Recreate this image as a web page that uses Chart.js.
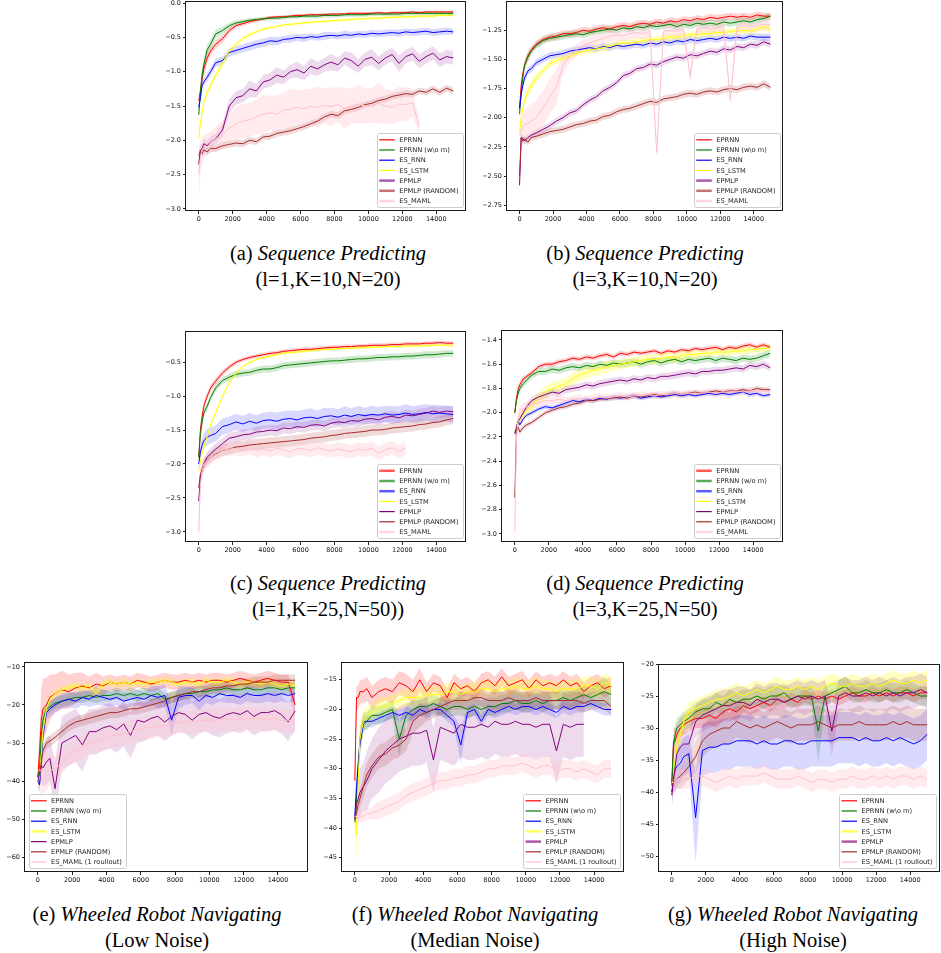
<!DOCTYPE html>
<html>
<head>
<meta charset="utf-8">
<script src="https://cdn.jsdelivr.net/npm/chart.js@4.4.0/dist/chart.umd.min.js"></script>
<style>
body { margin: 0; background: #fff; width: 941px; height: 953px; position: relative; overflow: hidden; }
.cap { position: absolute; font-family: "Liberation Serif", "DejaVu Serif", serif; font-size: 20.5px; color: #000;
       white-space: nowrap; transform: translateX(-50%); text-align: center; line-height: 26px; }
</style>
</head>
<body>
<div class="cap" style="left:328px;top:240px">(a) <i>Sequence Predicting</i><br>(l=1,K=10,N=20)</div>
<div class="cap" style="left:645px;top:240px">(b) <i>Sequence Predicting</i><br>(l=3,K=10,N=20)</div>
<div class="cap" style="left:328px;top:570px">(c) <i>Sequence Predicting</i><br>(l=1,K=25,N=50))</div>
<div class="cap" style="left:645px;top:570px">(d) <i>Sequence Predicting</i><br>(l=3,K=25,N=50)</div>
<div class="cap" style="left:157px;top:901px">(e) <i>Wheeled Robot Navigating</i><br>(Low Noise)</div>
<div class="cap" style="left:475px;top:901px">(f) <i>Wheeled Robot Navigating</i><br>(Median Noise)</div>
<div class="cap" style="left:793px;top:901px">(g) <i>Wheeled Robot Navigating</i><br>(High Noise)</div>
<script>
// training steps shared by every curve
var STEPS = [0,100,200,300,500,700,1000, 1400,1800,2200,2600,3000,3400,3800, 4200,4600,5000,5400,5800,6200,6600,
             7000,7400,7800,8200,8600,9000,9400, 9800,10200,10600,11000,11400,11800,12200, 12600,13000,13400,13800,14200,14600,15000];
var X_TICKS = [0,2000,4000,6000,8000,10000,12000,14000];

var LABELS_AB = ['EPRNN','EPRNN (w\\o m)','ES_RNN','ES_LSTM','EPMLP','EPMLP (RANDOM)','ES_MAML'];
var LABELS_CD = ['EPRNN','EPRNN (w/o m)','ES_RNN','ES_LSTM','EPMLP','EPMLP (RANDOM)','ES_MAML'];
var LABELS_E = ['EPRNN','EPRNN (w/o m)','ES_RNN','ES_LSTM','EPMLP','EPMLP (RANDOM)','ES_MAML (1 roullout)'];
var LABELS_FG = ['EPRNN','EPRNN (w\\o m)','ES_RNN','ES_LSTM','EPMLP','EPMLP (RANDOM)','ES_MAML (1 roullout)'];

// (a) l=1,K=10,N=20
var aEprnn = [-1.42,-1.28,-1.1,-0.96,-0.8,-0.7,-0.6, -0.52,-0.4,-0.33,-0.3,-0.27,-0.25,-0.23, -0.21,-0.2,-0.2,-0.19,-0.18,-0.18,-0.17, -0.17,-0.17,-0.16,-0.16,-0.16,-0.15,-0.15, -0.15,-0.15,-0.14,-0.15,-0.14,-0.14,-0.14, -0.13,-0.14,-0.13,-0.13,-0.13,-0.13,-0.13];
var aEprnnNoM = [-1.63,-1.3,-1.05,-0.9,-0.68,-0.6,-0.45, -0.4,-0.33,-0.29,-0.27,-0.25,-0.24,-0.23, -0.22,-0.22,-0.21,-0.2,-0.2,-0.19,-0.19, -0.19,-0.18,-0.18,-0.18,-0.17,-0.17,-0.17, -0.17,-0.16,-0.16,-0.16,-0.16,-0.16,-0.15, -0.15,-0.15,-0.15,-0.15,-0.15,-0.15,-0.15];
var aEsRnn = [-1.52,-1.38,-1.2,-1.15,-1.08,-1.0,-0.87, -0.84,-0.72,-0.69,-0.66,-0.63,-0.6,-0.58, -0.55,-0.56,-0.53,-0.52,-0.5,-0.51,-0.49, -0.5,-0.48,-0.47,-0.48,-0.46,-0.47,-0.45, -0.46,-0.44,-0.45,-0.44,-0.43,-0.44,-0.42, -0.43,-0.42,-0.41,-0.43,-0.42,-0.41,-0.42];
var aEsLstm = [-1.97,-1.75,-1.6,-1.45,-1.3,-1.2,-1.05, -0.88,-0.7,-0.6,-0.52,-0.46,-0.42,-0.38, -0.36,-0.34,-0.32,-0.31,-0.3,-0.29,-0.28, -0.27,-0.27,-0.26,-0.25,-0.25,-0.24,-0.23, -0.23,-0.22,-0.22,-0.21,-0.21,-0.2,-0.2, -0.2,-0.19,-0.19,-0.19,-0.18,-0.18,-0.18];
var aEpmlp = [-2.35,-2.15,-2.12,-2.05,-2.08,-2.02,-1.98, -1.85,-1.5,-1.38,-1.35,-1.25,-1.28,-1.15, -1.12,-1.05,-1.08,-1.0,-0.97,-1.02,-0.92, -0.96,-0.9,-0.86,-0.9,-0.8,-0.84,-0.92, -0.82,-0.79,-0.88,-0.8,-0.75,-0.88,-0.78, -0.74,-0.85,-0.78,-0.73,-0.83,-0.78,-0.8];
var aEpmlpRand = [-2.22,-2.15,-2.2,-2.14,-2.17,-2.12,-2.12, -2.08,-2.06,-2.04,-2.05,-2.0,-2.02,-1.95, -1.94,-1.9,-1.88,-1.86,-1.83,-1.8,-1.76, -1.72,-1.66,-1.62,-1.64,-1.57,-1.55,-1.52, -1.48,-1.46,-1.42,-1.4,-1.36,-1.34,-1.32, -1.33,-1.28,-1.3,-1.25,-1.3,-1.24,-1.28];
var aEsMaml = [-2.5,-2.25,-2.15,-2.1,-2.05,-2.02,-1.98, -1.92,-1.82,-1.76,-1.72,-1.7,-1.66,-1.62, -1.6,-1.62,-1.56,-1.55,-1.52,-1.54,-1.5, -1.52,-1.49,-1.51,-1.48,-1.53,-1.5,-1.47, -1.5,-1.49,-1.46,-1.5,-1.52,-1.47,-1.48, -1.45,-1.8,null,null,null,null,null];
var aEprnnSd = [0.05,0.1,0.12,0.1,0.08,0.07,0.06, 0.06,0.04,0.03,0.03,0.03,0.03,0.02, 0.02,0.02,0.02,0.02,0.02,0.02,0.02, 0.02,0.02,0.02,0.02,0.02,0.02,0.02, 0.02,0.02,0.02,0.02,0.02,0.02,0.02, 0.02,0.02,0.02,0.02,0.02,0.02,0.02];
var aEprnnNoMSd = [0.06,0.12,0.12,0.1,0.08,0.07,0.06, 0.05,0.04,0.04,0.03,0.03,0.03,0.03, 0.03,0.03,0.03,0.03,0.03,0.03,0.03, 0.03,0.03,0.03,0.03,0.03,0.03,0.03, 0.03,0.03,0.03,0.03,0.03,0.03,0.03, 0.03,0.03,0.03,0.03,0.03,0.03,0.03];
var aEsRnnSd = [0.05,0.06,0.06,0.06,0.06,0.06,0.06, 0.06,0.06,0.06,0.06,0.06,0.06,0.06, 0.06,0.06,0.05,0.06,0.05,0.06,0.05, 0.05,0.06,0.05,0.05,0.06,0.05,0.05, 0.05,0.05,0.05,0.05,0.05,0.05,0.05, 0.05,0.05,0.05,0.05,0.05,0.05,0.05];
var aEsLstmSd = [0.1,0.08,0.06,0.05,0.05,0.05,0.05, 0.05,0.04,0.03,0.03,0.03,0.02,0.02, 0.02,0.02,0.02,0.02,0.02,0.02,0.02, 0.02,0.02,0.02,0.02,0.02,0.02,0.02, 0.02,0.02,0.02,0.02,0.02,0.02,0.02, 0.02,0.02,0.02,0.02,0.02,0.02,0.02];
var aEpmlpSd = [0.08,0.08,0.08,0.08,0.08,0.08,0.08, 0.1,0.1,0.1,0.1,0.12,0.1,0.1, 0.1,0.12,0.1,0.1,0.12,0.1,0.12, 0.1,0.1,0.12,0.1,0.1,0.12,0.1, 0.1,0.12,0.1,0.1,0.1,0.12,0.1, 0.1,0.1,0.1,0.1,0.1,0.1,0.1];
var aEpmlpRandSd = [0.1,0.05,0.05,0.05,0.05,0.05,0.05, 0.05,0.05,0.05,0.05,0.05,0.05,0.05, 0.05,0.05,0.05,0.05,0.05,0.05,0.05, 0.05,0.05,0.05,0.05,0.05,0.05,0.05, 0.05,0.05,0.05,0.05,0.05,0.05,0.05, 0.05,0.05,0.05,0.05,0.05,0.05,0.05];
var aEsMamlSd = [0.4,0.25,0.2,0.18,0.15,0.15,0.18, 0.2,0.22,0.25,0.25,0.25,0.25,0.28, 0.25,0.28,0.25,0.3,0.25,0.28,0.25, 0.3,0.25,0.28,0.25,0.3,0.25,0.28, 0.25,0.25,0.3,0.25,0.25,0.25,0.25, 0.2,0.1,null,null,null,null,null];

// (b) l=3,K=10,N=20
var bEprnn = [-1.92,-1.72,-1.62,-1.55,-1.47,-1.42,-1.37, -1.33,-1.31,-1.3,-1.28,-1.28,-1.27,-1.25, -1.26,-1.24,-1.23,-1.24,-1.22,-1.21,-1.22, -1.2,-1.19,-1.2,-1.18,-1.19,-1.17,-1.18, -1.16,-1.17,-1.15,-1.16,-1.14,-1.15,-1.14, -1.13,-1.14,-1.13,-1.14,-1.12,-1.13,-1.13];
var bEprnnNoM = [-1.97,-1.78,-1.65,-1.55,-1.48,-1.43,-1.38, -1.34,-1.32,-1.31,-1.3,-1.29,-1.28,-1.29, -1.27,-1.26,-1.25,-1.24,-1.25,-1.23,-1.24, -1.22,-1.23,-1.21,-1.22,-1.21,-1.2,-1.22, -1.2,-1.21,-1.19,-1.2,-1.19,-1.2,-1.18, -1.19,-1.18,-1.17,-1.18,-1.16,-1.15,-1.13];
var bEsRnn = [-1.92,-1.8,-1.72,-1.66,-1.6,-1.58,-1.53, -1.5,-1.47,-1.46,-1.45,-1.43,-1.42,-1.41, -1.4,-1.41,-1.39,-1.4,-1.38,-1.39,-1.38, -1.37,-1.38,-1.36,-1.37,-1.35,-1.36,-1.34, -1.35,-1.33,-1.34,-1.33,-1.32,-1.33,-1.31, -1.32,-1.31,-1.32,-1.3,-1.31,-1.31,-1.31];
var bEsLstm = [-2.13,-2.0,-1.92,-1.85,-1.78,-1.72,-1.66, -1.6,-1.54,-1.51,-1.49,-1.47,-1.45,-1.43, -1.42,-1.41,-1.4,-1.39,-1.37,-1.36,-1.36, -1.35,-1.34,-1.33,-1.33,-1.32,-1.31,-1.31, -1.3,-1.29,-1.29,-1.28,-1.28,-1.27,-1.27, -1.26,-1.26,-1.25,-1.26,-1.24,-1.22,-1.24];
var bEpmlp = [-2.58,-2.17,-2.18,-2.2,-2.17,-2.15,-2.13, -2.1,-2.07,-2.03,-2.0,-1.96,-1.94,-1.89, -1.85,-1.82,-1.77,-1.74,-1.7,-1.64,-1.62, -1.58,-1.57,-1.54,-1.55,-1.52,-1.5,-1.48, -1.49,-1.46,-1.47,-1.45,-1.43,-1.44,-1.41, -1.42,-1.39,-1.4,-1.37,-1.38,-1.35,-1.37];
var bEpmlpRand = [-2.5,-2.17,-2.2,-2.18,-2.21,-2.17,-2.16, -2.14,-2.12,-2.11,-2.1,-2.08,-2.06,-2.05, -2.03,-2.02,-1.99,-1.98,-1.95,-1.93,-1.92, -1.9,-1.88,-1.86,-1.87,-1.84,-1.83,-1.82, -1.8,-1.79,-1.8,-1.78,-1.77,-1.78,-1.76, -1.75,-1.76,-1.74,-1.73,-1.74,-1.71,-1.74];
var bEsMaml = [-2.15,-2.12,-2.08,-2.06,-2.05,-2.03,-2.0, -1.92,-1.82,-1.74,-1.55,-1.47,-1.42,-1.38, -1.36,-1.34,-1.32,-1.3,-1.29,-1.3,-1.28, -1.27,-1.28,-1.26,-2.3,-1.26,-1.25,-1.26, -1.24,-1.65,-1.24,-1.23,-1.24,-1.23,-1.22, -1.85,-1.22,-1.21,-1.22,-1.21,-1.2,-1.2];
var bEprnnSd = [0.05,0.05,0.04,0.04,0.04,0.03,0.03, 0.03,0.03,0.03,0.03,0.03,0.03,0.03, 0.03,0.03,0.03,0.03,0.03,0.03,0.03, 0.03,0.03,0.03,0.03,0.03,0.03,0.03, 0.03,0.03,0.03,0.03,0.03,0.03,0.03, 0.03,0.03,0.03,0.03,0.03,0.03,0.03];
var bEprnnNoMSd = [0.05,0.05,0.04,0.04,0.04,0.03,0.03, 0.03,0.03,0.03,0.03,0.03,0.03,0.03, 0.03,0.03,0.03,0.03,0.03,0.03,0.03, 0.03,0.03,0.03,0.03,0.03,0.03,0.03, 0.03,0.03,0.03,0.03,0.03,0.03,0.03, 0.03,0.03,0.03,0.03,0.03,0.03,0.03];
var bEsRnnSd = [0.04,0.04,0.04,0.04,0.03,0.03,0.03, 0.03,0.03,0.03,0.03,0.03,0.03,0.03, 0.03,0.03,0.03,0.03,0.03,0.03,0.03, 0.03,0.03,0.03,0.03,0.03,0.03,0.03, 0.03,0.03,0.03,0.03,0.03,0.03,0.03, 0.03,0.03,0.03,0.03,0.03,0.03,0.03];
var bEsLstmSd = [0.04,0.04,0.04,0.04,0.04,0.04,0.04, 0.03,0.03,0.03,0.03,0.03,0.03,0.03, 0.03,0.03,0.03,0.03,0.03,0.03,0.03, 0.03,0.03,0.03,0.03,0.03,0.03,0.03, 0.03,0.03,0.03,0.03,0.03,0.03,0.03, 0.03,0.03,0.03,0.03,0.03,0.03,0.03];
var bEpmlpSd = [0.1,0.03,0.03,0.03,0.03,0.03,0.03, 0.03,0.03,0.03,0.03,0.03,0.03,0.03, 0.03,0.03,0.03,0.03,0.03,0.03,0.03, 0.03,0.03,0.03,0.03,0.03,0.03,0.03, 0.03,0.03,0.03,0.03,0.03,0.03,0.03, 0.03,0.03,0.03,0.03,0.03,0.03,0.03];
var bEpmlpRandSd = [0.08,0.03,0.03,0.03,0.03,0.03,0.03, 0.03,0.03,0.03,0.03,0.03,0.03,0.03, 0.03,0.03,0.03,0.03,0.03,0.03,0.03, 0.03,0.03,0.03,0.03,0.03,0.03,0.03, 0.03,0.03,0.03,0.03,0.03,0.03,0.03, 0.03,0.03,0.03,0.03,0.03,0.03,0.03];
var bEsMamlSd = [0.1,0.1,0.1,0.12,0.15,0.15,0.15, 0.15,0.15,0.15,0.08,0.06,0.05,0.05, 0.05,0.05,0.05,0.05,0.05,0.05,0.05, 0.05,0.05,0.05,0.05,0.05,0.05,0.05, 0.05,0.05,0.05,0.05,0.05,0.05,0.05, 0.05,0.05,0.05,0.05,0.05,0.05,0.05];

// (c) l=1,K=25,N=50
var cEprnn = [-1.9,-1.5,-1.3,-1.15,-1.0,-0.88,-0.78, -0.66,-0.57,-0.5,-0.46,-0.43,-0.41,-0.39, -0.37,-0.36,-0.34,-0.33,-0.32,-0.31,-0.31, -0.3,-0.29,-0.28,-0.28,-0.27,-0.27,-0.26, -0.26,-0.25,-0.25,-0.25,-0.24,-0.24,-0.23, -0.23,-0.23,-0.22,-0.22,-0.21,-0.22,-0.22];
var cEprnnNoM = [-1.9,-1.55,-1.38,-1.25,-1.15,-1.02,-0.88, -0.77,-0.72,-0.68,-0.66,-0.65,-0.62,-0.6, -0.6,-0.58,-0.55,-0.54,-0.53,-0.52,-0.51, -0.5,-0.49,-0.48,-0.48,-0.47,-0.46,-0.45, -0.45,-0.44,-0.43,-0.43,-0.42,-0.42,-0.41, -0.41,-0.4,-0.39,-0.39,-0.38,-0.37,-0.37];
var cEsRnn = [-2.0,-1.82,-1.72,-1.66,-1.6,-1.58,-1.55, -1.45,-1.42,-1.38,-1.41,-1.37,-1.4,-1.36, -1.35,-1.37,-1.34,-1.33,-1.35,-1.32,-1.31, -1.33,-1.3,-1.29,-1.31,-1.28,-1.3,-1.27, -1.29,-1.27,-1.28,-1.26,-1.28,-1.27,-1.25, -1.27,-1.26,-1.24,-1.26,-1.25,-1.26,-1.27];
var cEsLstm = [-2.1,-1.95,-1.85,-1.75,-1.6,-1.42,-1.25, -1.0,-0.8,-0.66,-0.56,-0.5,-0.46,-0.43, -0.41,-0.39,-0.37,-0.36,-0.35,-0.34,-0.33, -0.32,-0.31,-0.31,-0.3,-0.3,-0.29,-0.29, -0.28,-0.28,-0.28,-0.27,-0.27,-0.27,-0.26, -0.26,-0.26,-0.26,-0.25,-0.25,-0.25,-0.26];
var cEpmlp = [-2.55,-2.2,-2.08,-2.0,-1.9,-1.85,-1.78, -1.7,-1.62,-1.6,-1.57,-1.56,-1.53,-1.52, -1.5,-1.51,-1.47,-1.48,-1.45,-1.46,-1.43, -1.42,-1.44,-1.4,-1.38,-1.39,-1.36,-1.37, -1.34,-1.33,-1.35,-1.31,-1.3,-1.32,-1.28, -1.29,-1.27,-1.25,-1.22,-1.24,-1.22,-1.23];
var cEpmlpRand = [-2.35,-2.15,-2.1,-2.0,-1.95,-1.9,-1.85, -1.8,-1.78,-1.75,-1.74,-1.72,-1.71,-1.7, -1.69,-1.68,-1.67,-1.66,-1.65,-1.64,-1.62, -1.61,-1.6,-1.58,-1.57,-1.55,-1.54,-1.53, -1.52,-1.5,-1.5,-1.49,-1.47,-1.46,-1.45, -1.44,-1.42,-1.41,-1.39,-1.38,-1.35,-1.33];
var cEsMaml = [-3.0,-2.3,-2.1,-2.0,-1.95,-1.9,-1.84, -1.8,-1.78,-1.77,-1.79,-1.76,-1.8,-1.78, -1.81,-1.77,-1.79,-1.82,-1.77,-1.78,-1.8, -1.76,-1.79,-1.81,-1.78,-1.8,-1.82,-1.78, -1.8,-1.77,-1.84,-1.79,-1.76,-1.82,-1.76, null,null,null,null,null,null,null];
var cEprnnSd = [0.1,0.1,0.08,0.06,0.05,0.05,0.05, 0.04,0.04,0.03,0.03,0.03,0.03,0.03, 0.03,0.03,0.03,0.03,0.03,0.03,0.03, 0.03,0.03,0.03,0.03,0.03,0.03,0.03, 0.03,0.03,0.03,0.03,0.03,0.03,0.03, 0.03,0.03,0.03,0.03,0.03,0.03,0.03];
var cEprnnNoMSd = [0.1,0.1,0.08,0.06,0.05,0.05,0.05, 0.05,0.05,0.05,0.05,0.05,0.05,0.05, 0.05,0.05,0.05,0.05,0.05,0.05,0.05, 0.05,0.05,0.05,0.05,0.05,0.05,0.05, 0.05,0.05,0.05,0.05,0.05,0.05,0.05, 0.05,0.05,0.05,0.05,0.05,0.05,0.05];
var cEsRnnSd = [0.1,0.1,0.1,0.12,0.12,0.12,0.12, 0.12,0.12,0.12,0.12,0.12,0.12,0.12, 0.12,0.13,0.12,0.12,0.13,0.12,0.13, 0.12,0.13,0.12,0.12,0.13,0.12,0.13, 0.12,0.13,0.12,0.12,0.13,0.12,0.13, 0.12,0.13,0.12,0.13,0.12,0.12,0.12];
var cEsLstmSd = [0.05,0.05,0.05,0.05,0.04,0.04,0.04, 0.03,0.03,0.02,0.02,0.02,0.02,0.02, 0.02,0.02,0.02,0.02,0.02,0.02,0.02, 0.02,0.02,0.02,0.02,0.02,0.02,0.02, 0.02,0.02,0.02,0.02,0.02,0.02,0.02, 0.02,0.02,0.02,0.02,0.02,0.02,0.02];
var cEpmlpSd = [0.2,0.1,0.08,0.08,0.08,0.08,0.08, 0.08,0.08,0.08,0.08,0.08,0.08,0.08, 0.08,0.08,0.08,0.08,0.08,0.08,0.08, 0.08,0.08,0.08,0.08,0.08,0.08,0.08, 0.08,0.08,0.08,0.08,0.08,0.08,0.08, 0.08,0.08,0.08,0.08,0.08,0.08,0.08];
var cEpmlpRandSd = [0.1,0.08,0.08,0.08,0.08,0.08,0.08, 0.08,0.08,0.08,0.08,0.08,0.08,0.08, 0.08,0.08,0.08,0.08,0.08,0.08,0.08, 0.08,0.08,0.08,0.08,0.08,0.08,0.08, 0.08,0.08,0.08,0.08,0.08,0.08,0.08, 0.08,0.08,0.08,0.08,0.08,0.08,0.08];
var cEsMamlSd = [0.2,0.15,0.12,0.1,0.1,0.1,0.1, 0.1,0.1,0.1,0.1,0.1,0.1,0.1, 0.1,0.1,0.1,0.1,0.1,0.1,0.1, 0.1,0.1,0.1,0.1,0.1,0.1,0.1, 0.1,0.1,0.1,0.1,0.1,0.1,0.1, null,null,null,null,null,null,null];

// (d) l=3,K=25,N=50
var dEprnn = [-2.0,-1.88,-1.8,-1.77,-1.72,-1.7,-1.67, -1.62,-1.6,-1.6,-1.58,-1.57,-1.55,-1.56, -1.54,-1.55,-1.53,-1.52,-1.54,-1.51,-1.52, -1.5,-1.51,-1.5,-1.49,-1.51,-1.49,-1.5, -1.48,-1.49,-1.47,-1.48,-1.47,-1.46,-1.48, -1.46,-1.47,-1.45,-1.44,-1.46,-1.44,-1.46];
var dEprnnNoM = [-2.0,-1.9,-1.84,-1.8,-1.76,-1.73,-1.69, -1.66,-1.66,-1.64,-1.65,-1.63,-1.62,-1.63, -1.61,-1.62,-1.6,-1.61,-1.59,-1.6,-1.59, -1.58,-1.6,-1.58,-1.57,-1.59,-1.57,-1.56, -1.58,-1.56,-1.57,-1.56,-1.55,-1.57,-1.55, -1.56,-1.57,-1.55,-1.56,-1.55,-1.53,-1.51];
var dEsRnn = [-2.17,-2.15,-2.07,-2.1,-2.05,-2.02,-2.0, -1.97,-1.95,-1.96,-1.94,-1.92,-1.9,-1.91, -1.89,-1.9,-1.88,-1.89,-1.87,-1.88,-1.87, -1.86,-1.88,-1.87,-1.86,-1.87,-1.86,-1.85, -1.86,-1.85,-1.86,-1.85,-1.84,-1.85,-1.84, -1.85,-1.84,-1.83,-1.85,-1.84,-1.86,-1.85];
var dEsLstm = [-2.15,-2.12,-2.08,-2.05,-2.02,-1.98,-1.94, -1.88,-1.83,-1.8,-1.78,-1.76,-1.72,-1.69, -1.67,-1.65,-1.64,-1.62,-1.61,-1.6,-1.59, -1.58,-1.57,-1.56,-1.56,-1.55,-1.54,-1.55, -1.53,-1.52,-1.52,-1.51,-1.51,-1.5,-1.5, -1.5,-1.49,-1.49,-1.48,-1.48,-1.47,-1.47];
var dEpmlp = [-2.17,-2.12,-2.07,-2.05,-2.0,-1.95,-1.9, -1.87,-1.85,-1.83,-1.84,-1.81,-1.8,-1.79, -1.77,-1.78,-1.76,-1.75,-1.74,-1.73,-1.74, -1.72,-1.73,-1.71,-1.72,-1.7,-1.7,-1.69, -1.68,-1.67,-1.68,-1.66,-1.66,-1.65,-1.65, -1.64,-1.63,-1.64,-1.61,-1.62,-1.6,-1.63];
var dEpmlpRand = [-2.7,-2.15,-2.12,-2.16,-2.12,-2.1,-2.08, -2.04,-2.0,-1.98,-1.96,-1.95,-1.93,-1.92, -1.9,-1.9,-1.89,-1.88,-1.88,-1.87,-1.88, -1.86,-1.87,-1.86,-1.85,-1.86,-1.85,-1.84, -1.85,-1.84,-1.83,-1.84,-1.83,-1.82,-1.83, -1.82,-1.82,-1.81,-1.82,-1.8,-1.81,-1.81];
var dEsMaml = [-2.98,-2.2,-2.05,-2.0,-1.97,-1.95,-1.93, -1.92,-1.9,-1.9,-1.89,-1.9,-1.89,-1.88, -1.89,-1.88,-1.87,-1.88,-1.87,-1.86,-1.87, -1.86,-1.86,-1.85,-1.86,-1.85,-1.85,-1.84, -1.85,-1.84,-1.84,-1.84,-1.83,-1.84,-1.83, -1.83,-1.82,-1.83,-1.82,-1.82,-1.82,-1.82];
var dEprnnSd = [0.04,0.03,0.03,0.03,0.02,0.02,0.02, 0.02,0.02,0.02,0.02,0.02,0.02,0.02, 0.02,0.02,0.02,0.02,0.02,0.02,0.02, 0.02,0.02,0.02,0.02,0.02,0.02,0.02, 0.02,0.02,0.02,0.02,0.02,0.02,0.02, 0.02,0.02,0.02,0.02,0.02,0.02,0.02];
var dEprnnNoMSd = [0.04,0.03,0.03,0.03,0.03,0.03,0.03, 0.03,0.03,0.03,0.03,0.03,0.03,0.03, 0.03,0.03,0.03,0.03,0.03,0.03,0.03, 0.03,0.03,0.03,0.03,0.03,0.03,0.03, 0.03,0.03,0.03,0.03,0.03,0.03,0.03, 0.03,0.03,0.03,0.03,0.03,0.03,0.03];
var dEsRnnSd = [0.03,0.03,0.03,0.02,0.02,0.02,0.02, 0.02,0.02,0.02,0.02,0.02,0.02,0.02, 0.02,0.02,0.02,0.02,0.02,0.02,0.02, 0.02,0.02,0.02,0.02,0.02,0.02,0.02, 0.02,0.02,0.02,0.02,0.02,0.02,0.02, 0.02,0.02,0.02,0.02,0.02,0.02,0.02];
var dEsLstmSd = [0.03,0.03,0.04,0.04,0.04,0.05,0.05, 0.05,0.05,0.05,0.05,0.05,0.05,0.05, 0.05,0.05,0.05,0.05,0.04,0.04,0.04, 0.04,0.04,0.04,0.04,0.04,0.04,0.04, 0.04,0.04,0.03,0.03,0.03,0.03,0.03, 0.03,0.03,0.03,0.03,0.03,0.03,0.03];
var dEpmlpSd = [0.03,0.03,0.03,0.03,0.03,0.03,0.03, 0.03,0.03,0.03,0.03,0.03,0.03,0.03, 0.03,0.03,0.03,0.03,0.03,0.03,0.03, 0.03,0.03,0.03,0.03,0.03,0.03,0.03, 0.03,0.03,0.03,0.03,0.03,0.03,0.03, 0.03,0.03,0.03,0.03,0.03,0.03,0.03];
var dEpmlpRandSd = [0.05,0.02,0.02,0.02,0.02,0.02,0.02, 0.02,0.02,0.02,0.02,0.02,0.02,0.02, 0.02,0.02,0.02,0.02,0.02,0.02,0.02, 0.02,0.02,0.02,0.02,0.02,0.02,0.02, 0.02,0.02,0.02,0.02,0.02,0.02,0.02, 0.02,0.02,0.02,0.02,0.02,0.02,0.02];
var dEsMamlSd = [0.08,0.1,0.08,0.06,0.05,0.04,0.04, 0.03,0.03,0.03,0.03,0.03,0.03,0.03, 0.03,0.03,0.03,0.03,0.03,0.03,0.03, 0.03,0.03,0.03,0.03,0.03,0.03,0.03, 0.03,0.03,0.03,0.03,0.03,0.03,0.03, 0.03,0.03,0.03,0.03,0.03,0.03,0.03];

// (e) low noise
var eEprnn = [-39,-32,-24,-21,-20,-18,-17, -16,-16.5,-15.5,-15,-15.5,-14.5,-15, -14,-14.5,-14,-14.5,-13.5,-14,-14.5, -14,-13.5,-14,-14,-13.5,-14,-13.5, -14,-13.5,-13.5,-14,-13.5,-13,-13.5, -14,-13.5,-13,-13.5,-14,-14,-20];
var eEprnnNoM = [-39,-37,-28,-24,-21,-20.5,-19.5, -19,-18.5,-18,-18,-17.5,-18,-17.5, -17.5,-17,-17.5,-17,-17.5,-17,-17.5, -17,-18.5,-18,-17.5,-17,-17,-16.5, -16.5,-16,-16,-15.5,-16,-16,-15.5, -16,-16,-15.5,-15.5,-16,-15.5,-15.5];
var eEsRnn = [-40,-41,-35,-28,-22,-21,-20, -19,-18.5,-19,-18,-18.5,-17.5,-18, -18.5,-18,-19,-18.5,-18,-18.5,-17.5, -18,-17.5,-24,-18,-17.5,-17.5,-19, -17.5,-18,-17,-17.5,-17.5,-18,-17, -17.5,-17.5,-17,-17.5,-17,-17.5,-17];
var eEsLstm = [-40,-39,-33,-27,-21,-18.5,-17, -16,-15.5,-15,-15.5,-15,-17,-14.5, -14,-14.5,-14,-14.5,-14,-14.5,-14, -14,-13.5,-14,-14.5,-14,-14,-14.5, -13.5,-14,-14,-13.5,-14,-14.5,-14, -14,-14.5,-14,-14.5,-15,-14.5,-15];
var eEpmlp = [-40,-38,-36,-36.5,-35,-34,-42, -30,-29,-28,-30.5,-27,-27,-26, -25.5,-26.5,-25,-28,-24,-24.5,-23.5, -23,-24.5,-23,-22,-22.5,-24,-22.5, -22,-23,-23.5,-22.5,-22,-22.5,-21.5, -23,-22,-22,-21.5,-22.5,-24.5,-21.5];
var eEpmlpRand = [-38.5,-38,-35,-32,-30,-29.5,-28.5, -27,-25.5,-24.5,-24,-23.5,-23,-22.5, -22,-22,-21.5,-21,-21,-20.5,-20, -19.5,-19,-18,-17.5,-17,-16.5,-16.5, -16,-15.5,-15.5,-15,-15,-14.5,-14.5, -14,-14,-14,-13.5,-13.5,-13.5,-13.5];
var eEsMaml = [-37.5,-37,-37.5,-37,-37.5,-37,-37, -35,-33,-32,-31,-30,-29.5,-29, -28,-28,-27.5,-27,-26.5,-26,-26, -25.5,-25.5,-25,-24.5,-24.5,-24.5,-24, -24,-24,-24,-23.5,-24,-23.5,-23.5, -23.5,-23.5,-24,-23.5,-24,-24,-24.5];
var eEprnnSd = [3,5,8,8,7,6,5, 5,4.5,4,3.5,3,3,2.5, 2,2,2,2,2,2,2, 2,2,2,2,2,2,2, 2,2,2,2,2,2,2, 2,2,2,2,2,2,3];
var eEprnnNoMSd = [1,2,3,2,1.5,1.5,1.5, 1.5,1.5,1.5,1.5,1.5,1.5,1.5, 1.5,1.5,1.5,1.5,1.5,1.5,1.5, 1.5,1.5,1.5,1.5,1.5,1.5,1.5, 1.5,1.5,1.5,1.5,1.5,1.5,1.5, 1.5,1.5,1.5,1.5,1.5,1.5,1.5];
var eEsRnnSd = [1,2,3,3,2,2,2, 2,2,2,2,2,2.5,2, 2,2,2.5,2,2,2,2.5, 3,3,4,3,2.5,2,2.5, 2,2,2,2,2,2,2, 2,2,2,2,2,2,2];
var eEsLstmSd = [1,2,3,2,1.5,1,1, 1,1,1,1,1,1.5,1, 1,1,1,1,1,1,1, 1,1,1,1,1,1,1, 1,1,1,1,1,1,1, 1,1,1,1,1,1,1];
var eEpmlpSd = [3,3,4,5,6,6,7, 7,7,7,7,6,6,6, 6,6,6,6,6,5,5, 5,5,5,5,5,5,5, 5,5,5,5,5,5,5, 5,5,5,5,5,5,5];
var eEpmlpRandSd = [1,1,1.5,1.5,1.5,1.5,1.5, 1.5,1.5,1.5,1.5,1.5,1.5,1.5, 1.5,1.5,1.5,1.5,1.5,1.5,1.5, 1.5,1.5,1.5,1.5,1.5,1.5,1.5, 1.5,1.5,1.5,1.5,1.5,1.5,1.5, 1.5,1.5,1.5,1.5,1.5,1.5,1.5];
var eEsMamlSd = [4,5,6,6,5,4,3.5, 3,3,3,3,3,3,3, 3,3,3,3,3,3,3, 3,3,3,3,3,3,3, 3,3,3,3,3,3,3, 3,3,3,3,3,3,3];

// (f) median noise
var fEprnn = [-32,-18,-18,-17,-17,-16.5,-18, -17,-16.5,-17,-15.5,-16,-17,-15, -17,-15.5,-16,-18,-15.5,-16.5,-16, -17,-15.5,-15,-16,-14.5,-16,-15.5, -15,-16.5,-15,-16,-15.5,-16,-15, -16,-15.5,-17,-16,-15.5,-16.5,-16];
var fEprnnNoM = [-39,-35,-30,-25,-22,-22,-21, -21,-20.5,-20,-25,-21,-20,-19.5, -19.5,-19,-19.5,-20,-19.5,-19.5,-20, -19.5,-20,-19.5,-19.5,-19,-19,-18.5, -19,-19,-18.5,-19,-18.5,-18.5,-18, -18.5,-18,-17.5,-18,-17.5,-17,-17.5];
var fEsRnn = [-38,-33,-29,-26,-22.5,-22,-22, -21.5,-21,-20.5,-21,-20.5,-21,-20, -20.5,-20,-20,-21,-22,-26,-20.5, -20,-22,-20,-20.5,-20,-19.5,-20, -19.5,-19.5,-20,-19.5,-20,-20.5,-19.5, -20,-19.5,-19.5,-19,-19.5,-20,-20];
var fEsLstm = [-39,-41,-32,-25,-22,-21,-20.5, -19.5,-19.5,-19,-18.5,-18,-18,-18, -17.5,-17.5,-17.5,-17,-17,-17.5,-17, -17,-16.5,-16.5,-17,-16.5,-16.5,-16, -16.5,-16.5,-16,-16.5,-16.5,-17,-16.5, -16.5,-16.5,-16,-16,-16.5,-15.5,-16];
var fEpmlp = [-38.5,-36,-35,-34,-33,-32,-30, -28.5,-27,-26,-25,-24.5,-24,-24, -23.5,-28.5,-23,-23.5,-24,-22.5,-23, -23,-22.5,-23,-22,-22.5,-22.5,-22, -22.5,-22.5,-23,-22.5,-22.5,-27,-22.5, -23,-22.5,-22.5,null,null,null,null];
var fEpmlpRand = [-38.5,-37.5,-36,-35,-33,-31,-29.5, -28,-27.5,-26.5,-26,-25,-22,-21, -20.5,-20,-19.5,-19,-18.5,-18.5,-18.5, -18,-18,-18.5,-18.5,-18.5,-18,-18.5, -18.5,-18.5,-18,-18.5,-18.5,-18.5,-18.5, -18.5,-18.5,-19,-18.5,-18.5,-18.5,-19.5];
var fEsMaml = [-38,-38,-38.5,-38,-38,-37.5,-37.5, -37,-36.5,-36,-35.5,-34.5,-34,-33.5, -33,-32.5,-32,-32,-31.5,-31.5,-31, -31,-30.5,-30,-30,-29.5,-29.5,-29.5, -29,-29.5,-30,-29.5,-29.5,-30.5,-30, -30,-30.5,-30,-30.5,-31,-30,-30];
var fEprnnSd = [5,2,2,2,2,2,2, 2,2,2,2,2,2,2, 1.5,1.5,1.5,1.5,1.5,1.5,1.5, 1.5,1.5,1.5,1.5,1.5,1.5,1.5, 1.5,1.5,1.5,1.5,1.5,1.5,1.5, 1.5,1.5,1.5,1.5,1.5,1.5,1.5];
var fEprnnNoMSd = [1,2,2,2,1.5,1.5,1.5, 1.5,1.5,1.5,3,1.5,1.5,1.5, 1.5,1.5,1.5,1.5,1.5,1.5,1.5, 1.5,1.5,1.5,1.5,1.5,1.5,1.5, 1.5,1.5,1.5,1.5,1.5,1.5,1.5, 1.5,1.5,1.5,1.5,2,2.5,1.5];
var fEsRnnSd = [1,2,2,2,1.5,1,1, 1,1,1,1,1,1,1, 1,1,1,1,1,3,1, 1,1,1,1,1,1,1, 1,1,1,1,1,1,1, 1,1,1,1,1,1,1];
var fEsLstmSd = [1,5,4,3,2,1.5,1.5, 1.5,1.5,1.5,1.5,1.5,1.5,1.5, 1.5,1.5,1.5,1.5,1.5,1.5,1.5, 1.5,1.5,1.5,1.5,1.5,1.5,1.5, 1.5,1.5,1.5,1.5,1.5,1.5,1.5, 1.5,1.5,1.5,1.5,1.5,1.5,1.5];
var fEpmlpSd = [1,2,3,4,4,5,5, 5.5,5.5,5.5,5.5,5.5,5.5,5.5, 5.5,5.5,5.5,5.5,5.5,5.5,5.5, 5.5,5.5,5.5,5.5,5.5,5.5,5.5, 5.5,5.5,5.5,5.5,5.5,5.5,5.5, 5.5,5.5,5.5,null,null,null,null];
var fEpmlpRandSd = [1,1,1.5,1.5,2,2,2, 2,2,2,2,2,2,2, 1.5,1.5,1.5,1.5,1.5,1.5,1.5, 1.5,1.5,1.5,1.5,1.5,1.5,1.5, 1.5,1.5,1.5,1.5,1.5,1.5,1.5, 1.5,1.5,1.5,1.5,1.5,1.5,1.5];
var fEsMamlSd = [1,1,1,1,1,1,1, 1.5,1.5,1.5,1.5,1.5,1.5,1.5, 1.5,1.5,1.5,1.5,1.5,1.5,1.5, 1.5,1.5,1.5,1.5,1.5,1.5,1.5, 1.5,1.5,1.5,1.5,1.5,1.5,1.5, 1.5,1.5,1.5,1.5,1.5,1.5,1.5];

// (g) high noise
var gEprnn = [-39,-32,-32,-31,-30,-29.5,-29, -28.5,-28.5,-28,-28.5,-27.5,-27,-27.5, -26.5,-27,-26.5,-26,-26.5,-25.5,-26, -25.5,-26,-25,-25.5,-25,-25.5,-25, -25.5,-25,-24.5,-25,-25,-24.5,-25, -24.5,-25,-24.5,-24.5,-25,-24.5,-24.5];
var gEprnnNoM = [-38.5,-33,-31,-30,-29.5,-29,-28.5, -27.5,-27,-27,-26,-26.5,-25.5,-26, -25.5,-25.5,-25,-25.5,-25,-25,-24.5, -25.5,-25,-25,-25,-30.5,-25,-24.5, -24,-23.5,-24.5,-24.5,-24,-24.5,-24.5, -24,-24.5,-24.5,-24,-24.5,-25,-25];
var gEsRnn = [-40,-38,-36.5,-36,-35.5,-34.5,-34, -44,-33.5,-33,-33,-32.5,-32.5,-32, -32,-32,-32.5,-32,-32.5,-32.5,-32, -32,-32.5,-32.5,-32,-32,-32,-32, -31.5,-31.5,-31.5,-32,-31.5,-32,-32, -31.5,-32,-31.5,-32,-32.5,-32,-31];
var gEsLstm = [-39,-38,-35,-33,-31,-29,-27.5, -27,-26.5,-26,-25.5,-25.5,-25,-24.5, -25,-24.5,-24,-24.5,-24,-23.5,-24, -24,-23.5,-24,-23.5,-24,-23.5,-23, -23.5,-23.5,-23,-23.5,-23.5,-23,-23.5, -23,-22.5,-23,-23,-22.5,-23,-22.5];
var gEpmlp = [-40.5,-38,-36,-34,-33,-32.5,-32.5, -29,-28,-27.5,-27,-26.5,-26.5,-26, -26,-26.5,-25.5,-26,-25.5,-25.5,-26, -25.5,-25,-25.5,-25,-25.5,-25,-30.5, -25,-24.5,-25,-25,-24.5,-25,-24.5, -25,-24.5,-25,-24.5,-24.5,-24,-24.5];
var gEpmlpRand = [-39,-38.5,-38.5,-38,-37.5,-37,-36, -34.5,-32,-31,-30.5,-30,-30,-29, -29.5,-30,-29.5,-30,-29.5,-29,-29.5, -30,-29.5,-29.5,-29.5,-29,-29.5,-30, -29.5,-29.5,-29.5,-29,-29.5,-29.5,-29.5, -29.5,-29,-29.5,-29,-29.5,-29.5,-29.5];
var gEsMaml = [-38.5,-38.5,-38.5,-38,-38,-38,-38, -37.5,-37.5,-38,-38.5,-38,-37.5,-38, -37.5,-37.5,-37.5,-37,-37.5,-38,-38, -38,-37.5,-38,-38.5,-38,-38,-38.5, -38,-38,-37.5,-38,-38,-37.5,-38, -37.5,-38,-37.5,-37.5,-38,-37.5,-38];
var gEprnnSd = [1.5,2,2,1.5,1.5,1.5,1.5, 1.5,1.5,1.5,1.5,1.5,1.5,1.5, 1,1,1,1,1,1,1, 1,1,1,1,1,1,1, 1,1,1,1,1,1,1, 1,1,1,1,1,1,1];
var gEprnnNoMSd = [1.5,1.5,1.5,1.5,1.5,1.5,1.5, 1.5,1.5,1.5,1.5,1.5,1.5,1.5, 1.5,1.5,1.5,1.5,1.5,1.5,1.5, 1.5,1.5,1.5,1.5,5,1.5,1.5, 1.5,1.5,1.5,1.5,1.5,1.5,1.5, 1.5,1.5,1.5,1.5,1.5,1.5,1.5];
var gEsRnnSd = [2,2,3,3,3,3,3, 7,4,4,4,4,4,4, 4,4,4,4,4,4,4, 4,4,4,4,4,4,4, 4,4,4,4,4,4,4, 4,4,4,4,4,4,4];
var gEsLstmSd = [1.5,1.5,1.5,1.5,1.5,1.5,1.5, 1.5,1.5,1.5,1.5,1.5,1.5,1.5, 1.5,1.5,1.5,1.5,1.5,1.5,1.5, 1.5,1.5,1.5,1.5,1.5,1.5,1.5, 1.5,1.5,1.5,1.5,1.5,1.5,1.5, 1.5,1.5,1.5,1.5,1.5,1.5,1.5];
var gEpmlpSd = [2,2,2,2,2,2,2, 2.5,2.5,2.5,2.5,2.5,2.5,2.5, 2.5,2.5,2.5,2.5,2.5,2.5,2.5, 2.5,2.5,2.5,2.5,2.5,2.5,4, 2.5,2.5,2.5,2.5,2.5,2.5,2.5, 2.5,2.5,2.5,2.5,2.5,2.5,2.5];
var gEpmlpRandSd = [1.5,1.5,1.5,1.5,2,2,2, 2.5,2.5,2.5,2.5,2.5,2.5,2.5, 2.5,2.5,2.5,2.5,2.5,2.5,2.5, 2.5,2.5,2.5,2.5,2.5,2.5,2.5, 2.5,2.5,2.5,2.5,2.5,2.5,2.5, 2.5,2.5,2.5,2.5,2.5,2.5,2.5];
var gEsMamlSd = [2,1.5,1.5,1.5,1.5,1.5,1.5, 1.5,1.5,1.5,1.5,1.5,1.5,1.5, 1.5,1.5,1.5,1.5,1.5,1.5,1.5, 1.5,1.5,1.5,1.5,1.5,1.5,1.5, 1.5,1.5,1.5,1.5,1.5,1.5,1.5, 1.5,1.5,1.5,1.5,1.5,1.5,1.5];

var COLORS = ['#ff0000', '#008000', '#0000ff', '#ffff00', '#800080', '#a52a2a', '#ffc0cb'];
var BAND_ALPHA = [0.18, 0.18, 0.15, 0.25, 0.14, 0.18, 0.32];

function withAlpha(hex, a)
{
    var r = parseInt(hex.substr(1, 2), 16), g = parseInt(hex.substr(3, 2), 16), b = parseInt(hex.substr(5, 2), 16);
    return 'rgba(' + r + ',' + g + ',' + b + ',' + a + ')';
}

function fmtTick(v, dec)
{
    return (v < 0 ? '\u2212' : '') + Math.abs(v).toFixed(dec);
}

// frame (all four spines) + matplotlib-like legend box
function framePlugin(p)
{
    return {
        id: 'frameLegend',
        afterDatasetsDraw: function(chart) {
            var ctx = chart.ctx, a = chart.chartArea;
            ctx.save();
            ctx.strokeStyle = '#1a1a1a';
            ctx.lineWidth = 1;
            ctx.strokeRect(a.left - 0.5, a.top + 0.5, a.right - a.left, a.bottom - a.top - 1);

            ctx.font = '6.7px "DejaVu Sans"';
            var tw = 0;
            p.labels.forEach(function(l) { tw = Math.max(tw, ctx.measureText(l).width); });
            var w = 2.5 + 15.5 + 4.5 + tw + 4, h = 13 + 6 * 10.2;
            var x = p.corner == 'll' ? a.left + 3.5 : a.right - 3.5 - w;
            var y = a.bottom - 3.5 - h;
            ctx.beginPath();
            ctx.roundRect(Math.round(x) + 0.5, Math.round(y) + 0.5, Math.round(w), Math.round(h), 2);
            ctx.fillStyle = 'rgba(255,255,255,0.8)';
            ctx.fill();
            ctx.strokeStyle = '#cccccc';
            ctx.stroke();
            ctx.textBaseline = 'middle';
            ctx.textAlign = 'left';
            for (var i = 0; i < p.labels.length; i++) {
                var cy = y + 6.5 + i * 10.2;
                var thick = p.thick.indexOf(i) >= 0;
                ctx.globalAlpha = thick ? 0.65 : 1;
                ctx.strokeStyle = COLORS[i];
                ctx.lineWidth = thick ? 2.5 : 1.2;
                ctx.beginPath();
                ctx.moveTo(x + 2.5, cy);
                ctx.lineTo(x + 18, cy);
                ctx.stroke();
                ctx.globalAlpha = 1;
                ctx.fillStyle = '#222';
                ctx.fillText(p.labels[i], x + 22.5, cy + 0.5);
            }
            ctx.restore();
        }
    };
}

function makeChart(p)
{
    var left = p.box[0] - p.yw, top = p.box[1] - 10;
    var w = p.box[2] - left + 1, h = p.box[3] - top + 16;
    var canvas = document.createElement('canvas');
    canvas.width = w;
    canvas.height = h;
    canvas.style.cssText = 'position:absolute;left:' + left + 'px;top:' + top + 'px;width:' + w + 'px;height:' + h + 'px';
    document.body.appendChild(canvas);

    var datasets = [];
    var k;
    for (k = 0; k < 7; k++) {
        var m = p.means[k];
        datasets.push({
            label: p.labels[k],
            data: STEPS.map(function(x, i) { return {x: x, y: m[i]}; }),
            borderColor: COLORS[k],
            borderWidth: 1,
            pointRadius: 0,
            fill: false,
            order: 6 - k
        });
    }
    for (k = 0; k < 7; k++) {
        var mm = p.means[k], s = p.sds[k];
        var up = STEPS.map(function(x, i) { return {x: x, y: (mm[i] == null || s[i] == null) ? null : mm[i] + s[i]}; });
        var lo = STEPS.map(function(x, i) { return {x: x, y: (mm[i] == null || s[i] == null) ? null : mm[i] - s[i]}; });
        datasets.push({data: up, borderColor: 'rgba(0,0,0,0)', borderWidth: 0, pointRadius: 0,
                       fill: '+1', backgroundColor: withAlpha(COLORS[k], BAND_ALPHA[k]), order: 20 - k});
        datasets.push({data: lo, borderColor: 'rgba(0,0,0,0)', borderWidth: 0, pointRadius: 0,
                       fill: false, order: 20 - k});
    }

    var tickFont = {family: 'DejaVu Sans', size: 6.5};
    new Chart(canvas, {
        type: 'line',
        data: {datasets: datasets},
        plugins: [framePlugin(p)],
        options: {
            responsive: false,
            animation: false,
            devicePixelRatio: 1,
            events: [],
            layout: {padding: {top: 10, right: 1, left: 0, bottom: 0}},
            plugins: {legend: {display: false}, tooltip: {enabled: false}},
            scales: {
                x: {
                    type: 'linear', min: -750, max: 15750,
                    afterBuildTicks: function(s) { s.ticks = X_TICKS.map(function(v) { return {value: v}; }); },
                    afterFit: function(s) { s.height = 16; },
                    grid: {drawOnChartArea: false, drawTicks: true, tickLength: 3, color: '#222'},
                    border: {display: false},
                    ticks: {font: tickFont, color: '#111', padding: 1.5, maxRotation: 0, autoSkip: false,
                            callback: function(v) { return String(v); }}
                },
                y: {
                    type: 'linear', min: p.yMin, max: p.yMax,
                    afterBuildTicks: function(s) { s.ticks = p.yTicks.map(function(v) { return {value: v}; }); },
                    afterFit: function(s) { s.width = p.yw; },
                    grid: {drawOnChartArea: false, drawTicks: true, tickLength: 3, color: '#222'},
                    border: {display: false},
                    ticks: {font: tickFont, color: '#111', padding: 2, autoSkip: false,
                            callback: function(v) { return fmtTick(v, p.yDec); }}
                }
            }
        }
    });
}

makeChart({box: [186, 1, 466, 211], yw: 24, yMin: -3.03, yMax: 0.03, yTicks: [0, -0.5, -1, -1.5, -2, -2.5, -3], yDec: 1,
    labels: LABELS_AB, corner: 'lr', thick: [4, 5, 6],
    means: [aEprnn, aEprnnNoM, aEsRnn, aEsLstm, aEpmlp, aEpmlpRand, aEsMaml],
    sds: [aEprnnSd, aEprnnNoMSd, aEsRnnSd, aEsLstmSd, aEpmlpSd, aEpmlpRandSd, aEsMamlSd]});
makeChart({box: [507, 1, 783, 211], yw: 24, yMin: -2.80, yMax: -1.0, yTicks: [-1.25, -1.5, -1.75, -2, -2.25, -2.5, -2.75], yDec: 2,
    labels: LABELS_AB, corner: 'lr', thick: [4, 5, 6],
    means: [bEprnn, bEprnnNoM, bEsRnn, bEsLstm, bEpmlp, bEpmlpRand, bEsMaml],
    sds: [bEprnnSd, bEprnnNoMSd, bEsRnnSd, bEsLstmSd, bEpmlpSd, bEpmlpRandSd, bEsMamlSd]});
makeChart({box: [186, 331, 466, 542], yw: 24, yMin: -3.15, yMax: -0.04, yTicks: [-0.5, -1, -1.5, -2, -2.5, -3], yDec: 1,
    labels: LABELS_CD, corner: 'lr', thick: [0, 1, 2, 6],
    means: [cEprnn, cEprnnNoM, cEsRnn, cEsLstm, cEpmlp, cEpmlpRand, cEsMaml],
    sds: [cEprnnSd, cEprnnNoMSd, cEsRnnSd, cEsLstmSd, cEpmlpSd, cEpmlpRandSd, cEsMamlSd]});
makeChart({box: [502, 330, 783, 542], yw: 24, yMin: -3.066, yMax: -1.318, yTicks: [-1.4, -1.6, -1.8, -2, -2.2, -2.4, -2.6, -2.8, -3], yDec: 1,
    labels: LABELS_CD, corner: 'lr', thick: [0, 1, 2, 6],
    means: [dEprnn, dEprnnNoM, dEsRnn, dEsLstm, dEpmlp, dEpmlpRand, dEsMaml],
    sds: [dEprnnSd, dEprnnNoMSd, dEsRnnSd, dEsLstmSd, dEpmlpSd, dEpmlpRandSd, dEsMamlSd]});
makeChart({box: [25, 662, 308, 872], yw: 20, yMin: -63.9, yMax: -8.7, yTicks: [-10, -20, -30, -40, -50, -60], yDec: 0,
    labels: LABELS_E, corner: 'll', thick: [3],
    means: [eEprnn, eEprnnNoM, eEsRnn, eEsLstm, eEpmlp, eEpmlpRand, eEsMaml],
    sds: [eEprnnSd, eEprnnNoMSd, eEsRnnSd, eEsLstmSd, eEpmlpSd, eEpmlpRandSd, eEsMamlSd]});
makeChart({box: [342, 662, 624, 872], yw: 22, yMin: -47.4, yMax: -12.0, yTicks: [-15, -20, -25, -30, -35, -40, -45], yDec: 0,
    labels: LABELS_FG, corner: 'lr', thick: [3, 4],
    means: [fEprnn, fEprnnNoM, fEsRnn, fEsLstm, fEpmlp, fEpmlpRand, fEsMaml],
    sds: [fEprnnSd, fEprnnNoMSd, fEsRnnSd, fEsLstmSd, fEpmlpSd, fEpmlpRandSd, fEsMamlSd]});
makeChart({box: [659, 664, 940, 872], yw: 22, yMin: -52.5, yMax: -20.0, yTicks: [-20, -25, -30, -35, -40, -45, -50], yDec: 0,
    labels: LABELS_FG, corner: 'lr', thick: [3, 4],
    means: [gEprnn, gEprnnNoM, gEsRnn, gEsLstm, gEpmlp, gEpmlpRand, gEsMaml],
    sds: [gEprnnSd, gEprnnNoMSd, gEsRnnSd, gEsLstmSd, gEpmlpSd, gEpmlpRandSd, gEsMamlSd]});
</script>
</body>
</html>
